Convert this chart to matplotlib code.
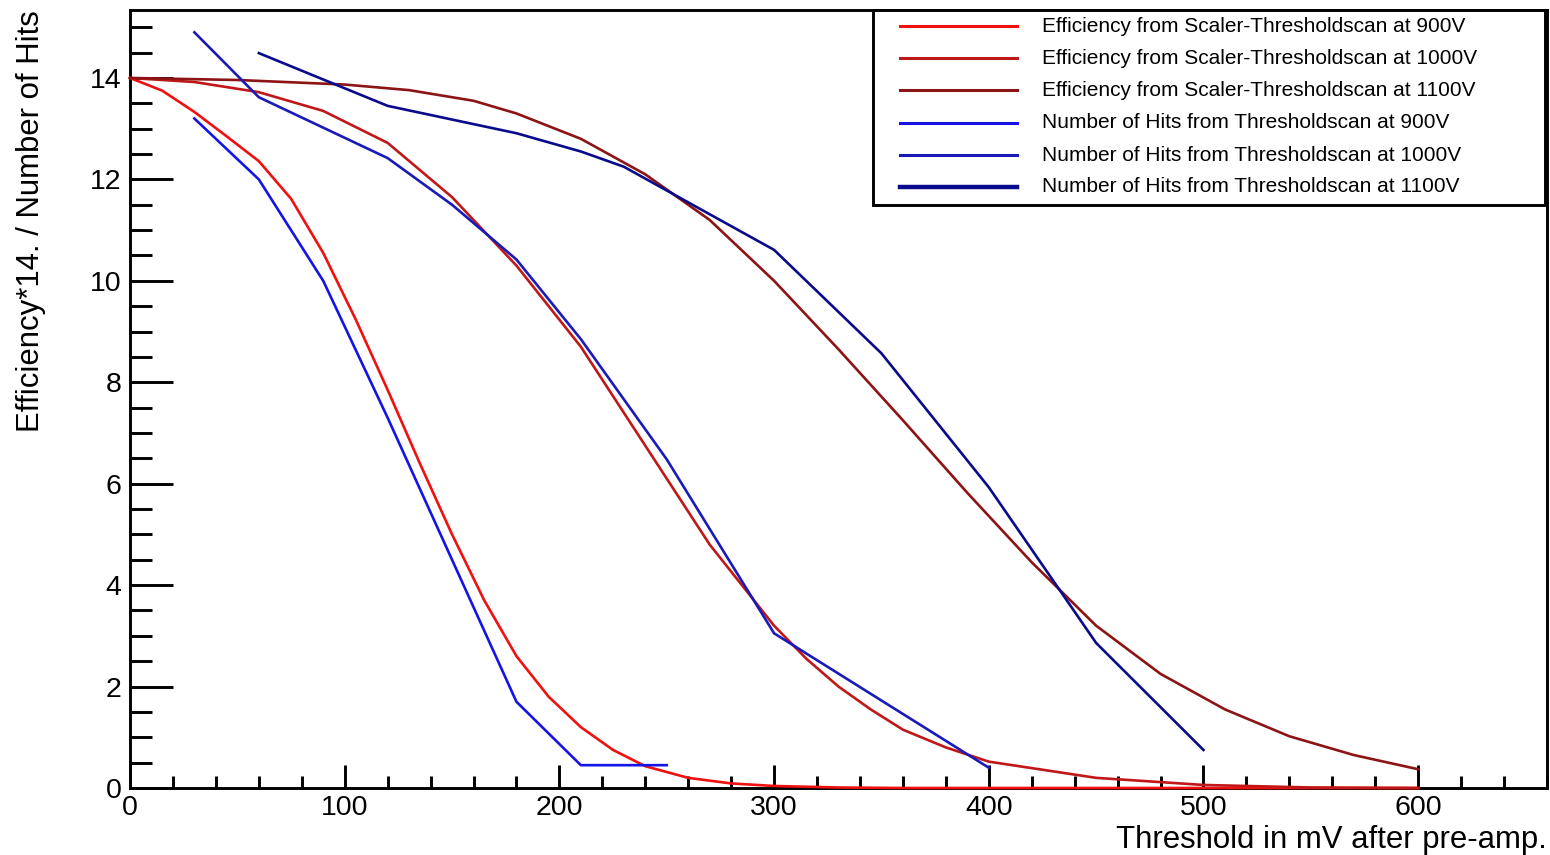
import matplotlib
matplotlib.use("Agg")
import matplotlib.pyplot as plt
from matplotlib.lines import Line2D
from matplotlib.patches import Rectangle

plt.rcParams['font.family'] = ['Liberation Sans', 'DejaVu Sans']

# efficiency*14 curves
eff900_x = [0, 15, 30, 45, 60, 75, 90, 105, 120, 135, 150, 165, 180, 195, 210, 225, 240, 260, 280, 300, 330, 360, 600]
eff900_y = [14.0, 13.75, 13.33, 12.85, 12.36, 11.62, 10.55, 9.25, 7.85, 6.4, 5.0, 3.7, 2.6, 1.8, 1.2, 0.75, 0.43, 0.2, 0.09, 0.04, 0.01, 0.0, 0.0]

eff1000_x = [0, 30, 60, 90, 120, 150, 180, 210, 240, 270, 300, 315, 330, 345, 360, 380, 400, 450, 500, 550, 600]
eff1000_y = [14.0, 13.92, 13.72, 13.35, 12.72, 11.65, 10.3, 8.7, 6.75, 4.8, 3.2, 2.55, 2.0, 1.55, 1.15, 0.8, 0.52, 0.2, 0.06, 0.01, 0.0]

eff1100_x = [0, 50, 100, 130, 160, 180, 210, 240, 270, 300, 330, 360, 390, 420, 450, 480, 510, 540, 570, 600]
eff1100_y = [14.0, 13.96, 13.87, 13.76, 13.55, 13.3, 12.8, 12.1, 11.2, 10.0, 8.65, 7.25, 5.82, 4.45, 3.2, 2.25, 1.55, 1.02, 0.65, 0.37]

# number of hits from thresholdscan
hits900_x = [30, 60, 90, 120, 150, 180, 210, 250]
hits900_y = [13.2, 12.0, 10.0, 7.3, 4.5, 1.7, 0.45, 0.45]

hits1000_x = [30, 60, 90, 120, 150, 180, 210, 250, 300, 400]
hits1000_y = [14.9, 13.62, 13.02, 12.42, 11.5, 10.42, 8.85, 6.48, 3.05, 0.4]

hits1100_x = [60, 120, 180, 210, 230, 300, 350, 400, 450, 500]
hits1100_y = [14.49, 13.45, 12.91, 12.55, 12.25, 10.61, 8.57, 5.93, 2.86, 0.75]

labels = ["Efficiency from Scaler-Thresholdscan at 900V",
          "Efficiency from Scaler-Thresholdscan at 1000V",
          "Efficiency from Scaler-Thresholdscan at 1100V",
          "Number of Hits from Thresholdscan at 900V",
          "Number of Hits from Thresholdscan at 1000V",
          "Number of Hits from Thresholdscan at 1100V"]
colors = ["#f01010", "#c01818", "#8c1414", "#1414e6", "#1a1ab8", "#0a0a8c"]

W, H = 1550, 855
fig = plt.figure(figsize=(W / 100, H / 100), dpi=100)
ax = fig.add_axes([130/W, 67/H, 1417/W, 778/H])

series = [(eff900_x, eff900_y), (eff1000_x, eff1000_y), (eff1100_x, eff1100_y),
          (hits900_x, hits900_y), (hits1000_x, hits1000_y), (hits1100_x, hits1100_y)]
for (xs, ys), c in zip(series, colors):
    ax.plot(xs, ys, color=c, lw=1.9, zorder=3, clip_on=False)

ax.set_xlim(0, 660)
ax.set_ylim(0, 15.34)
ax.set_xticks(range(0, 601, 100))
ax.set_xticks(range(0, 661, 20), minor=True)
ax.set_yticks(range(0, 15, 2))
ax.set_yticks([i * 0.5 for i in range(31)], minor=True)

ax.tick_params(axis='both', which='both', direction='in', width=2.1, colors='black',
               top=False, right=False, labelsize=20.5)
ax.tick_params(axis='x', which='major', length=16.5, pad=5)
ax.tick_params(axis='x', which='minor', length=8.3)
ax.tick_params(axis='y', which='major', length=31, pad=6)
ax.tick_params(axis='y', which='minor', length=16)
for s in ax.spines.values():
    s.set_linewidth(2.1)

ax.set_xlabel("Threshold in mV after pre-amp.", fontsize=22.4, loc='right')
ax.xaxis.set_label_coords(1.0, -0.048)
ax.set_ylabel("Efficiency*14. / Number of Hits", fontsize=22.4, loc='top')
ax.yaxis.set_label_coords(-0.059, 1.0)

# legend box drawn in figure pixels, ROOT TLegend style
tf = fig.transFigure
fig.patches.append(Rectangle((873/W, 1 - 205/H), (1545-873)/W, (205-10)/H, transform=tf,
                             facecolor='white', edgecolor='black', lw=2.1, zorder=5))
rows = [26, 58, 90, 123, 155, 187]
for i, (lab, c) in enumerate(zip(labels, colors)):
    yy = 1 - rows[i] / H
    fig.lines.append(Line2D([900/W, 1017/W], [yy, yy], transform=tf, color=c,
                            lw=3.2 if i == 5 else 2.2, zorder=6))
    fig.text(1042/W, yy, lab, fontsize=15, va='center', ha='left', zorder=6)

fig.savefig("out.png", dpi=100)
